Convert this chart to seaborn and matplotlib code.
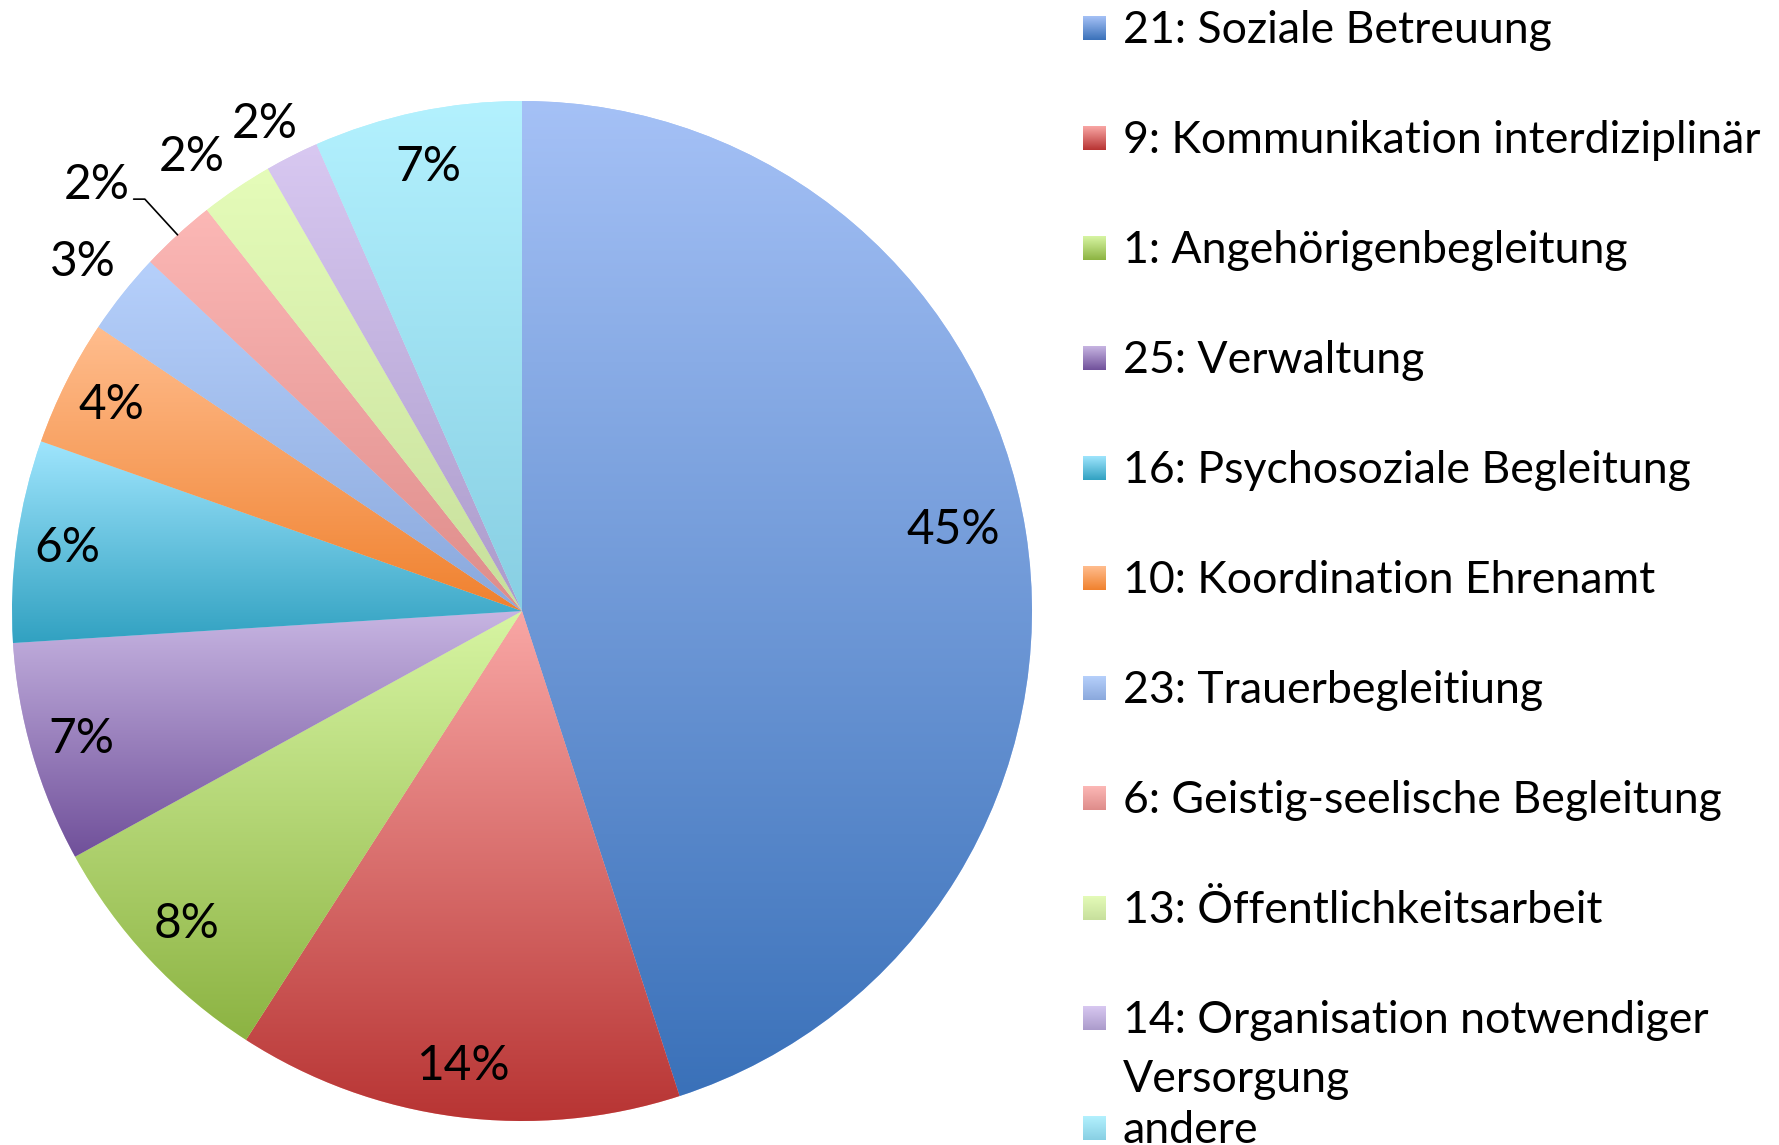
import numpy as np
import matplotlib
matplotlib.use("Agg")
import matplotlib.pyplot as plt
import seaborn as sns
from matplotlib.colors import to_rgba

# categories and shares (percent of mentions)
categories = [
    "21: Soziale Betreuung",
    "9: Kommunikation interdiziplinär",
    "1: Angehörigenbegleitung",
    "25: Verwaltung",
    "16: Psychosoziale Begleitung",
    "10: Koordination Ehrenamt",
    "23: Trauerbegleitiung",
    "6: Geistig-seelische Begleitung",
    "13: Öffentlichkeitsarbeit",
    "14: Organisation notwendiger\nVersorgung",
    "andere",
]
shares = [45.0, 14.1, 7.9, 7.0, 6.4, 4.0, 2.6, 2.4, 2.3, 1.7, 6.6]

# gradient colours per slice (top -> bottom), office style
top_colors = ["#a5c1f6", "#f9a7a5", "#d7f5a3", "#c7b5e2", "#9fe5fd", "#ffbd8e",
              "#b6d0fb", "#fcb8b6", "#e5fcb9", "#d8c8f1", "#b3f1fe"]
bottom_colors = ["#3a71b9", "#b73332", "#8cb342", "#70509a", "#31a1c1", "#f0812e",
                 "#8aa8dc", "#de8c8a", "#c7df9c", "#ab9bcb", "#88cfe3"]

# radial position / angle nudge of each percentage label (1.0 = pie edge)
label_dist = [0.86, 0.90, 0.90, 0.90, 0.90, 0.90, 1.10, 1.18, 1.10, 1.08, 0.89]
label_turn = [1.7, 0, 0, 0, 0, 0, 0, 2.5, 2.0, 1.0, 0]
leader = [False] * 7 + [True] + [False] * 3

W, H = 1779, 1145
cx, cy, rad = 522, 611, 510

sns.set_theme(style="white")
plt.rcParams['font.family'] = ['Lato', 'DejaVu Sans']

fig = plt.figure(figsize=(W / 100, H / 100), dpi=100)
fig.patch.set_facecolor("white")
ax = fig.add_axes([(cx - rad) / W, (H - cy - rad) / H, 2 * rad / W, 2 * rad / H])


def gradient(c1, c2, n=256):
    a, b = np.array(to_rgba(c1)), np.array(to_rgba(c2))
    t = np.linspace(0, 1, n)[:, None]
    return (a * (1 - t) + b * t)[:, None, :]


wedges, _ = ax.pie(shares, startangle=90, counterclock=False, radius=1.0,
                   colors=top_colors, wedgeprops=dict(linewidth=0))

for w, c1, c2 in zip(wedges, top_colors, bottom_colors):
    verts = w.get_patch_transform().transform(w.get_path().vertices)
    x0, y0 = verts.min(axis=0)
    x1, y1 = verts.max(axis=0)
    im = ax.imshow(gradient(c1, c2), extent=[x0, x1, y0, y1], origin="upper",
                   aspect="auto", zorder=2, interpolation="bilinear")
    im.set_clip_path(w)

ax.set_xlim(-1, 1)
ax.set_ylim(-1, 1)
ax.set_aspect("auto")
ax.axis("off")

# fit the font size so the longest legend line has the reference width
fig.canvas.draw()
rend = fig.canvas.get_renderer()
probe = fig.text(0, 0, "9: Kommunikation interdiziplinär", fontsize=30)
fs = 30 * 638 / probe.get_window_extent(rend).width
probe.remove()

# percentage labels
total = sum(shares)
for w, v, d, turn, lead in zip(wedges, shares, label_dist, label_turn, leader):
    mid = np.deg2rad((w.theta1 + w.theta2) / 2)
    ang = mid + np.deg2rad(turn)
    lx, ly = d * np.cos(ang), d * np.sin(ang)
    ax.text(lx, ly, f"{v / total * 100:.0f}%", ha="center", va="center",
            fontsize=fs * 1.07, color="black", zorder=5)
    if lead:
        ex, ey = np.cos(mid), np.sin(mid)
        kx, ky = 1.095 * np.cos(mid), 1.095 * np.sin(mid)
        ax.plot([ex, kx, kx - 0.022], [ey, ky, ky], color="black", lw=1.2,
                clip_on=False, zorder=5)

# legend, drawn by hand
for i, (lab, c1, c2) in enumerate(zip(categories, top_colors, bottom_colors)):
    yc = 28 + 110 * i
    max_ = fig.add_axes([1083 / W, (H - yc - 12) / H, 23 / W, 24 / H])
    max_.imshow(gradient(c1, c2), aspect="auto", extent=[0, 1, 0, 1])
    max_.axis("off")
    for j, line in enumerate(lab.split("\n")):
        fig.text(1123 / W, (H - (yc + 59 * j) - 15) / H, line, ha="left",
                 va="baseline", fontsize=fs, color="black")

fig.savefig("out.png", dpi=100, facecolor="white")
